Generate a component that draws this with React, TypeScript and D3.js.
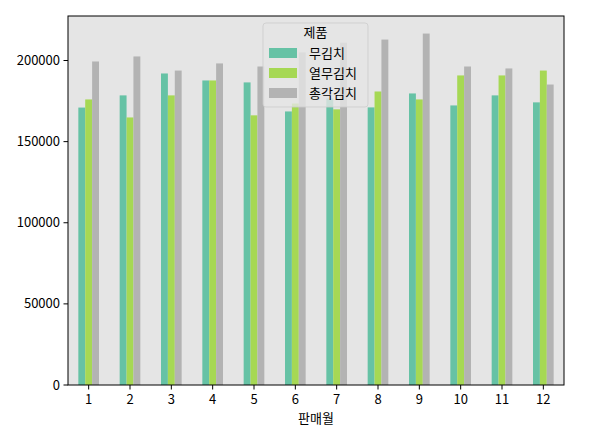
import React from "react";
import * as d3 from "d3";

const months = ["1", "2", "3", "4", "5", "6", "7", "8", "9", "10", "11", "12"];
const seriesNames = ["무김치", "열무김치", "총각김치"];
const muKimchi = [171000, 178500, 192000, 187700, 186500, 168600, 176600, 171100, 179700, 172300, 178500, 174200];
const yeolmuKimchi = [176000, 164900, 178500, 187700, 166200, 173500, 169900, 180900, 176000, 190800, 190800, 193800];
const chonggakKimchi = [199400, 202500, 193800, 198200, 196300, 205000, 211000, 212900, 216600, 196300, 195100, 185200];
const yTicks = [0, 50000, 100000, 150000, 200000];
const colors = ["#66c2a5", "#a6d854", "#b3b3b3"];

const W = 604, H = 428;
const L = 68, R = 564, T = 16, B = 385;
const FONT = "'Noto Sans CJK KR', 'Noto Sans', sans-serif";

export default function App() {
  const series = [muKimchi, yeolmuKimchi, chonggakKimchi];
  const maxV = d3.max(series.flat()) as number;
  const x = d3.scaleLinear().domain([-0.5, months.length - 0.5]).range([L, R]);
  const y = d3.scaleLinear().domain([0, maxV * 1.05]).range([B, T]);
  const bw = 0.5 / 3;

  const lx = 263, ly = 23, lw = 105, lh = 84;
  return (
    <svg width={W} height={H} style={{ position: "absolute", left: 0, top: 0 }} fontFamily={FONT}>
      <rect x={0} y={0} width={W} height={H} fill="#fff" />
      <rect x={L} y={T} width={R - L} height={B - T} fill="#e5e5e5" />
      {series.map((vals, si) =>
        vals.map((v, i) => {
          const x0 = x(i - 0.25 + si * bw);
          const x1 = x(i - 0.25 + (si + 1) * bw);
          return <rect key={`${si}-${i}`} x={x0} y={y(v)} width={x1 - x0} height={B - y(v)} fill={colors[si]} />;
        })
      )}
      {/* spines */}
      <rect x={L} y={T} width={R - L} height={B - T} fill="none" stroke="#000" strokeWidth={1} />
      {/* y ticks */}
      {yTicks.map((t) => (
        <g key={t}>
          <line x1={L - 4.5} x2={L} y1={y(t)} y2={y(t)} stroke="#000" />
          <text x={L - 8} y={y(t)} dy="0.35em" textAnchor="end" fontSize={13} fill="#000">{t}</text>
        </g>
      ))}
      {months.map((m, i) => (
        <g key={m}>
          <line x1={x(i)} x2={x(i)} y1={B} y2={B + 4.5} stroke="#000" />
          <text x={x(i)} y={B + 19} textAnchor="middle" fontSize={13} fill="#000">{m}</text>
        </g>
      ))}
      <text x={(L + R) / 2} y={H - 5} textAnchor="middle" fontSize={13} fill="#000">판매월</text>
      {/* legend */}
      <rect x={lx} y={ly} width={lw} height={lh} rx={3} fill="#e5e5e5" fillOpacity={0.8} stroke="#cccccc" strokeOpacity={0.8} />
      <text x={lx + lw / 2} y={ly + 14} textAnchor="middle" fontSize={13} fill="#000">제품</text>
      {seriesNames.map((n, i) => (
        <g key={n}>
          <rect x={lx + 6} y={ly + 25 + i * 20} width={28} height={10} fill={colors[i]} />
          <text x={lx + 46} y={ly + 30 + i * 20} dy="0.35em" fontSize={13} fill="#000">{n}</text>
        </g>
      ))}
    </svg>
  );
}
